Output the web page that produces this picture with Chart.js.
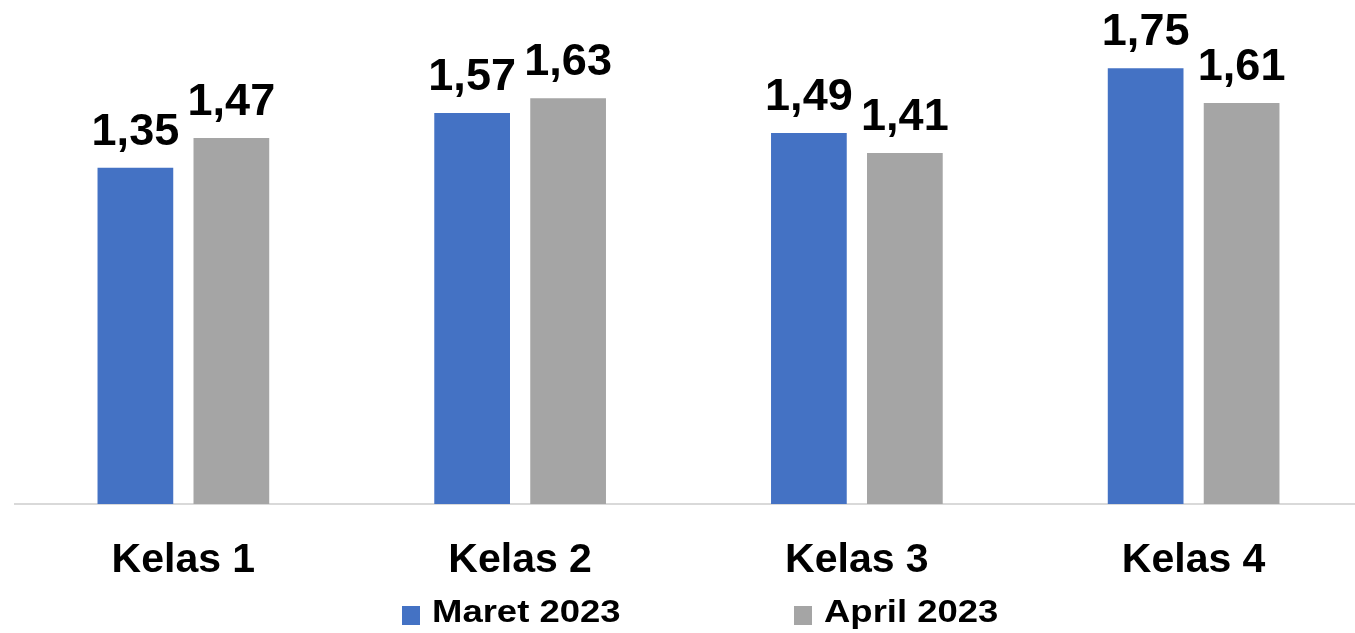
<!DOCTYPE html>
<html>
<head>
<meta charset="utf-8">
<script src="https://cdn.jsdelivr.net/npm/chart.js@4"></script>
<style>
  html, body { margin: 0; padding: 0; background: #fff; overflow: hidden; }
  #wrap { width: 1362px; height: 633px; }
</style>
</head>
<body>
<div id="wrap"><canvas id="myChart"></canvas></div>
<script>
// kelas categories and the two months
var categories = ["Kelas 1", "Kelas 2", "Kelas 3", "Kelas 4"];
var maret2023 = [1.35, 1.57, 1.49, 1.75];
var april2023 = [1.47, 1.63, 1.41, 1.61];
var seriesNames = ["Maret 2023", "April 2023"];
var seriesColors = ["#4472C4", "#A5A5A5"];

var FONT = "'Liberation Sans', Arial, sans-serif";

function fmt(v) {
  return v.toFixed(2).replace(".", ",");
}

// numbers over each bar
var valueLabels = {
  id: "valueLabels",
  afterDatasetsDraw: function (chart) {
    var ctx = chart.ctx;
    ctx.save();
    ctx.font = "bold 45px " + FONT;
    ctx.fillStyle = "#000";
    ctx.textAlign = "center";
    ctx.textBaseline = "alphabetic";
    chart.data.datasets.forEach(function (ds, i) {
      chart.getDatasetMeta(i).data.forEach(function (bar, j) {
        ctx.fillText(fmt(ds.data[j]), bar.x, bar.y - 23);
      });
    });
    ctx.restore();
  }
};

// legend along the bottom, spaced wide, text a bit stretched
var bottomLegend = {
  id: "bottomLegend",
  afterDraw: function (chart) {
    var ctx = chart.ctx;
    var slots = [402, 794];
    chart.data.datasets.forEach(function (ds, i) {
      var x = slots[i];
      ctx.save();
      ctx.fillStyle = ds.backgroundColor;
      ctx.fillRect(x, 606, 18, 19);
      ctx.translate(x + 30, 613);
      ctx.scale(1.14, 1);
      ctx.font = "bold 32px " + FONT;
      ctx.textBaseline = "middle";
      ctx.textAlign = "left";
      ctx.fillStyle = "#000";
      ctx.fillText(ds.label, 0, 0);
      ctx.restore();
    });
  }
};

var ctx = document.getElementById("myChart").getContext("2d");
var myChart = new Chart(ctx, {
  type: "bar",
  data: {
    labels: categories,
    datasets: [{
      label: seriesNames[0],
      data: maret2023,
      backgroundColor: seriesColors[0]
    }, {
      label: seriesNames[1],
      data: april2023,
      backgroundColor: seriesColors[1]
    }]
  },
  options: {
    responsive: true,
    maintainAspectRatio: false,
    animation: false,
    categoryPercentage: 0.57,
    barPercentage: 0.789,
    layout: { padding: { left: 15, top: 6, right: 0, bottom: 49 } },
    plugins: {
      legend: { display: false },
      tooltip: { enabled: false }
    },
    scales: {
      x: {
        grid: { display: false },
        border: { display: true, color: "#d9d9d9", width: 2 },
        ticks: {
          color: "#000",
          padding: 24,
          font: { family: FONT, size: 41, weight: "bold" }
        },
        afterFit: function (axis) { axis.height = 80; }
      },
      y: {
        display: false,
        min: 0,
        max: 2
      }
    }
  },
  plugins: [valueLabels, bottomLegend]
});
</script>
</body>
</html>
